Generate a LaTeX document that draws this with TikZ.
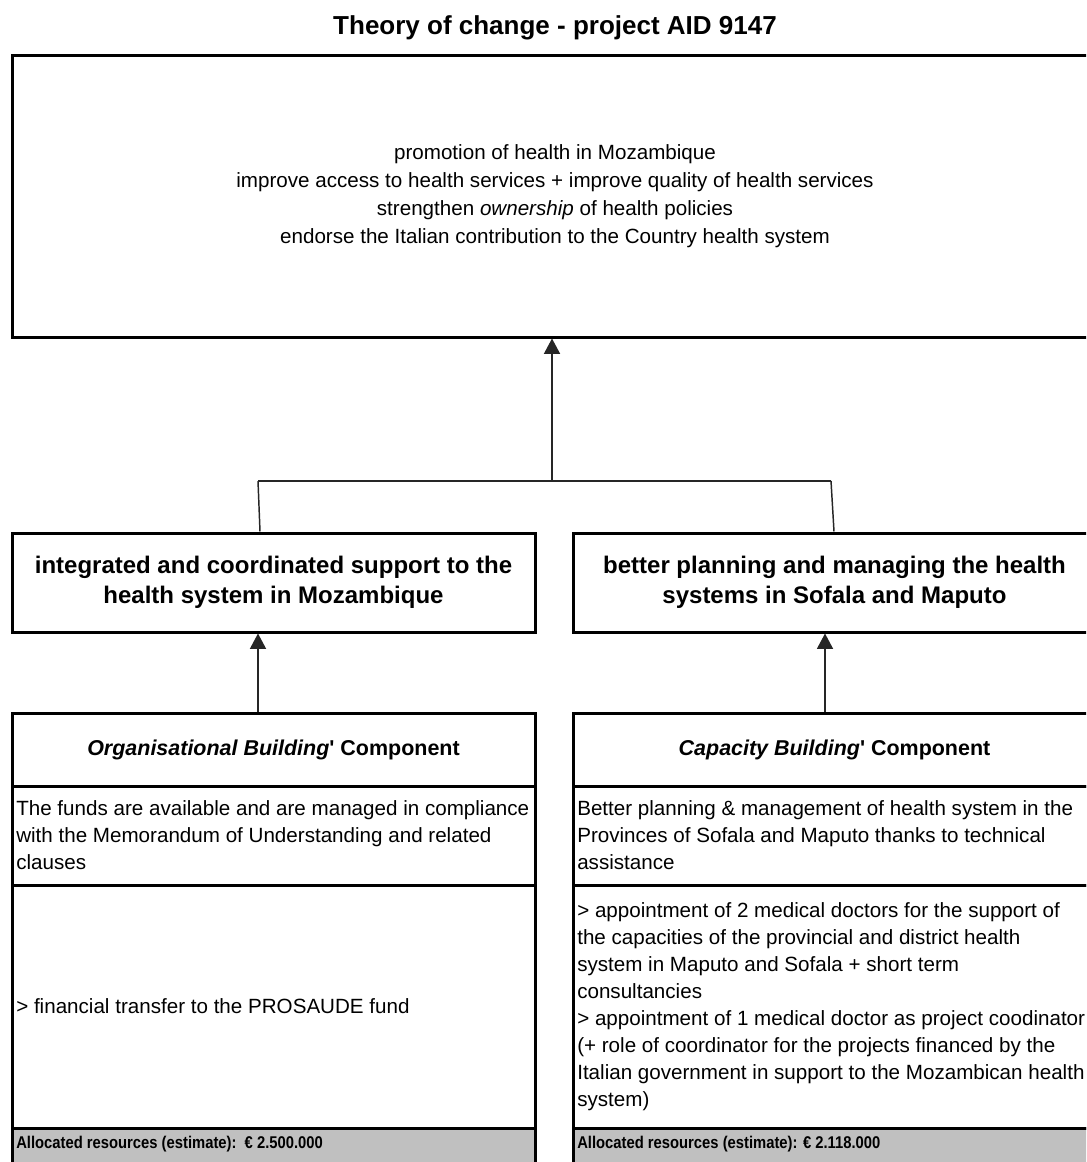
\documentclass[tikz,border=0pt]{standalone}
\usepackage{fontspec}
\setmainfont{Liberation Sans}
\usetikzlibrary{arrows.meta}
\definecolor{resgray}{HTML}{C0C0C0}
\newcommand{\fsz}[2]{\fontsize{#1}{#2}\selectfont}
\begin{document}
\begin{tikzpicture}[x=0.75pt,y=-0.75pt,
  frame/.style={draw=black, line width=2.25pt, inner sep=0pt},
  colbox/.style={frame, minimum width=392.25pt},
  midbox/.style={frame, minimum width=392.25pt, minimum height=74.25pt,
    align=center, font=\fsz{18pt}{22.5pt}\bfseries},
  headbox/.style={colbox, minimum height=54.75pt, font=\fsz{16.1pt}{20pt}},
  link/.style={draw=black!85, line width=1.1pt},
  uparrow/.style={link, -{Triangle[length=11.5pt,width=12pt]}},
  body/.style={inner sep=0pt, anchor=west, align=left, font=\fsz{15.45pt}{20.25pt}},
  restext/.style={inner sep=0pt, anchor=west, font=\fsz{12.75pt}{15pt}\bfseries}]

\useasboundingbox (0,0) rectangle (1086,1162);
\clip (0,0) rectangle (1086,1162);

% heading
\node[font=\fsz{19.5pt}{24pt}\bfseries] (title) at (555,28) {Theory of change - project AID 9147};

% overall goal
\node[frame, minimum width=814.5pt, minimum height=210.75pt, align=center,
      font=\fsz{15.45pt}{21pt}] (goal) at (555,196.5)
  {promotion of health in Mozambique\\
   improve access to health services + improve quality of health services\\
   strengthen \textit{ownership} of health policies\\
   endorse the Italian contribution to the Country health system};

% specific objectives
\node[midbox] (midL) at (273.5,582.5)
  {integrated and coordinated support to the\\health system in Mozambique};
\node[midbox] (midR) at (834.5,582.5)
  {better planning and managing the health\\systems in Sofala and Maputo};

% organisational building component
\node[headbox] (orgHead) at (273.5,749.5)
  {\bfseries\itshape Organisational Building\upshape\textquotesingle{} Component};
\node[colbox, minimum height=74.25pt] (orgAim) at (273.5,835.5) {};
\node[colbox, minimum height=182.25pt] (orgAct) at (273.5,1006.5) {};
\node[colbox, fill=resgray, minimum height=45pt] (orgRes) at (273.5,1158) {};

\node[body] (orgAimText) at (16,835.5)
  {The funds are available and are managed in compliance\\
   with the Memorandum of Understanding and related\\
   clauses};
\node[body] (orgActText) at (16,1006.5) {> financial transfer to the PROSAUDE fund};
\node[restext] (orgResText) at (16,1144)
  {\scalebox{0.87}[1]{Allocated resources (estimate):\ \ € 2.500.000}};

% capacity building component
\node[headbox] (capHead) at (834.5,749.5)
  {\bfseries\itshape Capacity Building\upshape\textquotesingle{} Component};
\node[colbox, minimum height=74.25pt] (capAim) at (834.5,835.5) {};
\node[colbox, minimum height=182.25pt] (capAct) at (834.5,1006.5) {};
\node[colbox, fill=resgray, minimum height=45pt] (capRes) at (834.5,1158) {};

\node[body] (capAimText) at (577,835.5)
  {Better planning \& management of health system in the\\
   Provinces of Sofala and Maputo thanks to technical\\
   assistance};
\node[body] (capActText) at (577,1006.5)
  {> appointment of 2 medical doctors for the support of\\
   the capacities of the provincial and district health\\
   system in Maputo and Sofala + short term\\
   consultancies\\
   > appointment of 1 medical doctor as project coodinator\\
   (+ role of coordinator for the projects financed by the\\
   Italian government in support to the Mozambican health\\
   system)};
\node[restext] (capResText) at (577,1144)
  {\scalebox{0.87}[1]{Allocated resources (estimate): € 2.118.000}};

% connectors
\coordinate (hub) at (552,481);
\coordinate (barL) at (258,481);
\coordinate (barR) at (831,481);
\coordinate (capIn) at (825,713);

\draw[link] (barL) -- (barR);
\draw[uparrow] (hub) -- (hub |- goal.south);
\draw[link] (barL) -- ([xshift=1.5pt]barL |- midL.north);
\draw[link] (barR) -- ([xshift=2.25pt]barR |- midR.north);
\draw[uparrow] (barL |- orgHead.north) -- (barL |- midL.south);
\draw[uparrow] (capIn |- capHead.north) -- (capIn |- midR.south);
\end{tikzpicture}
\end{document}
